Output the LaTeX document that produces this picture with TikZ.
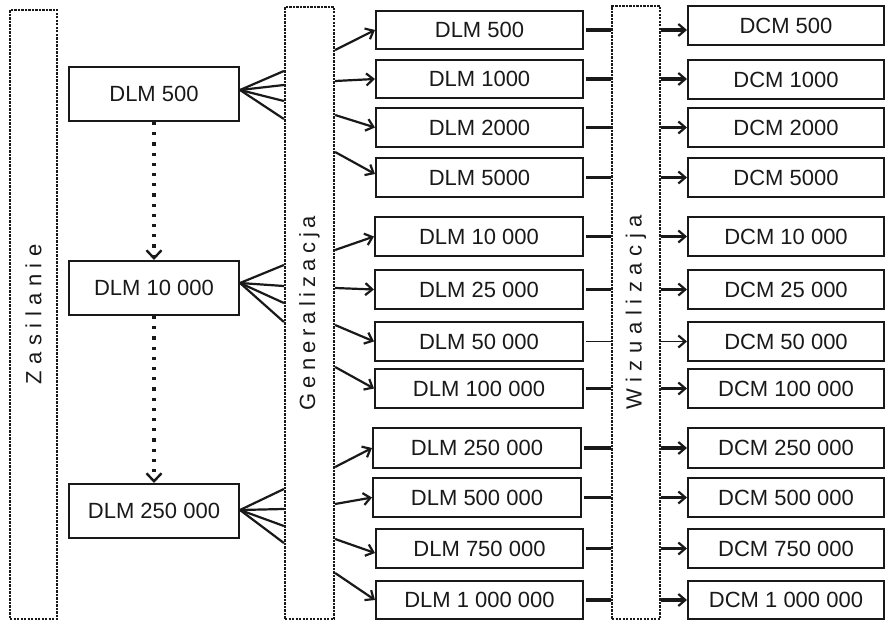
\documentclass[tikz,border=0pt]{standalone}
\usepackage{fontspec}
\setmainfont{Liberation Sans}
\usetikzlibrary{arrows.meta}
\definecolor{ink}{RGB}{25,25,25}
\newcommand\zk{\kern6.5pt}
\newcommand\gk{\kern5pt}
\newcommand\wk{\kern6.6pt}
\begin{document}
\begin{tikzpicture}[x=1pt,y=-1pt,font=\fontsize{22}{26}\selectfont,
  box/.style={draw=ink, line width=2pt, inner sep=0pt, text=ink},
  lbox/.style={box, minimum width=170pt, minimum height=54pt},
  mbox/.style={box, minimum width=207pt, minimum height=39pt},
  rbox/.style={box, minimum width=196pt, minimum height=39pt},
  band/.style={draw=ink, line width=2.2pt, dash pattern=on 2.2pt off 1.3pt, inner sep=0pt},
  vtext/.style={rotate=90, text=ink, inner sep=0pt},
  fan/.style={draw=ink, line width=2.2pt},
  garr/.style={draw=ink, line width=2.2pt, -{Straight Barb[length=7pt,width=12pt]}},
  link/.style={draw=ink, line width=3.2pt},
  warr/.style={link, -{Straight Barb[length=7pt,width=12pt,line width=2.2pt]}},
  feed/.style={draw=ink, line width=3.2pt, dash pattern=on 3.2pt off 7pt,
    -{Straight Barb[length=8pt,width=15pt,line width=2.4pt]}}]
\useasboundingbox (0,0) rectangle (885,620);

% bands
\node[band, minimum width=47pt, minimum height=609pt] (Z) at (33.5,314.5) {};
\node[band, minimum width=49pt, minimum height=612pt] (G) at (309.5,313) {};
\node[band, minimum width=48pt, minimum height=613pt] (W) at (636,312.5) {};
\node[vtext] (Zt) at (Z.center) {Z\zk a\zk s\zk i\zk l\zk a\zk n\zk i\zk e};
\node[vtext] (Gt) at (G.center) {G\gk e\gk n\gk e\gk r\gk a\gk l\gk i\gk z\gk a\gk c\gk j\gk a};
\node[vtext] (Wt) at (W.center) {W\wk i\wk z\wk u\wk a\wk l\wk i\wk z\wk a\wk c\wk j\wk a};

% left boxes
\node[lbox] (L1) at (154,94) {DLM 500};
\node[lbox] (L2) at (154,288) {DLM 10 000};
\node[lbox] (L3) at (154,511) {DLM 250 000};

% middle boxes
\node[mbox, minimum height=38pt] (M1) at (479.5,30) {DLM 500};
\node[mbox, minimum height=38pt] (M2) at (479.5,79) {DLM 1000};
\node[mbox] (M3) at (479.5,127.5) {DLM 2000};
\node[mbox] (M4) at (479.5,177.5) {DLM 5000};
\node[mbox, minimum width=208pt] (M5) at (479,236.5) {DLM 10 000};
\node[mbox, minimum width=208pt] (M6) at (479,289.5) {DLM 25 000};
\node[mbox, minimum width=208pt] (M7) at (479,341.5) {DLM 50 000};
\node[mbox, minimum width=208pt] (M8) at (479,388.5) {DLM 100 000};
\node[mbox, minimum width=208pt, minimum height=40pt] (M9) at (477,448) {DLM 250 000};
\node[mbox, minimum width=208pt] (M10) at (477,497.5) {DLM 500 000};
\node[mbox] (M11) at (479.5,548.5) {DLM 750 000};
\node[mbox, minimum height=38pt] (M12) at (479.5,600) {DLM 1 000 000};

% right boxes
\node[rbox] (R1) at (786,25.5) {DCM 500};
\node[rbox] (R2) at (786,79.5) {DCM 1000};
\node[rbox] (R3) at (786,127.5) {DCM 2000};
\node[rbox] (R4) at (786,177.5) {DCM 5000};
\node[rbox] (R5) at (786,236.5) {DCM 10 000};
\node[rbox] (R6) at (786,289.5) {DCM 25 000};
\node[rbox] (R7) at (786,341.5) {DCM 50 000};
\node[rbox] (R8) at (786,388.5) {DCM 100 000};
\node[rbox, minimum height=40pt] (R9) at (786,448) {DCM 250 000};
\node[rbox] (R10) at (786,497.5) {DCM 500 000};
\node[rbox] (R11) at (786,548.5) {DCM 750 000};
\node[rbox, minimum height=38pt] (R12) at (786,600) {DCM 1 000 000};

% feeding between left boxes
\draw[feed] (L1.south) -- (L2.north);
\draw[feed] (L2.south) -- (L3.north);

% fans into Generalizacja
\foreach \y in {71,85,101,119} \draw[fan] ([yshift=4pt]L1.east) -- (G.west |- 0,\y);
\foreach \y in {265,286,303,322} \draw[fan] ([yshift=5pt]L2.east) -- (G.west |- 0,\y);
\foreach \y in {489,509,526,543} \draw[fan] ([yshift=1pt]L3.east) -- (G.west |- 0,\y);

% Generalizacja -> DLM
\draw[garr] (G.east |- 0,50) -- (M1.west);
\draw[garr] (G.east |- 0,81) -- (M2.west);
\draw[garr] (G.east |- 0,115) -- (M3.west);
\draw[garr] (G.east |- 0,152) -- (M4.west |- 0,174);
\draw[garr] (G.east |- 0,250) -- (M5.west);
\draw[garr] (G.east |- 0,288) -- (M6.west);
\draw[garr] (G.east |- 0,325) -- (M7.west);
\draw[garr] (G.east |- 0,367) -- (M8.west);
\draw[garr] (G.east |- 0,467) -- (M9.west);
\draw[garr] (G.east |- 0,504) -- (M10.west);
\draw[garr] (G.east |- 0,539) -- (M11.west |- 0,553);
\draw[garr] (G.east |- 0,573) -- (M12.west);

% DLM -> Wizualizacja -> DCM
\foreach \k in {1,2,3,4,5,6,8,9,10,11,12} {
  \draw[link] ([xshift=2pt]M\k.east) -- (M\k.east -| W.west);
  \draw[warr] (M\k.east -| W.east) -- (M\k.east -| R\k.west);
}
\draw[link, line width=1.8pt] ([xshift=2pt]M7.east) -- (M7.east -| W.west);
\draw[warr, line width=1.8pt] (M7.east -| W.east) -- (M7.east -| R7.west);
\end{tikzpicture}
\end{document}
